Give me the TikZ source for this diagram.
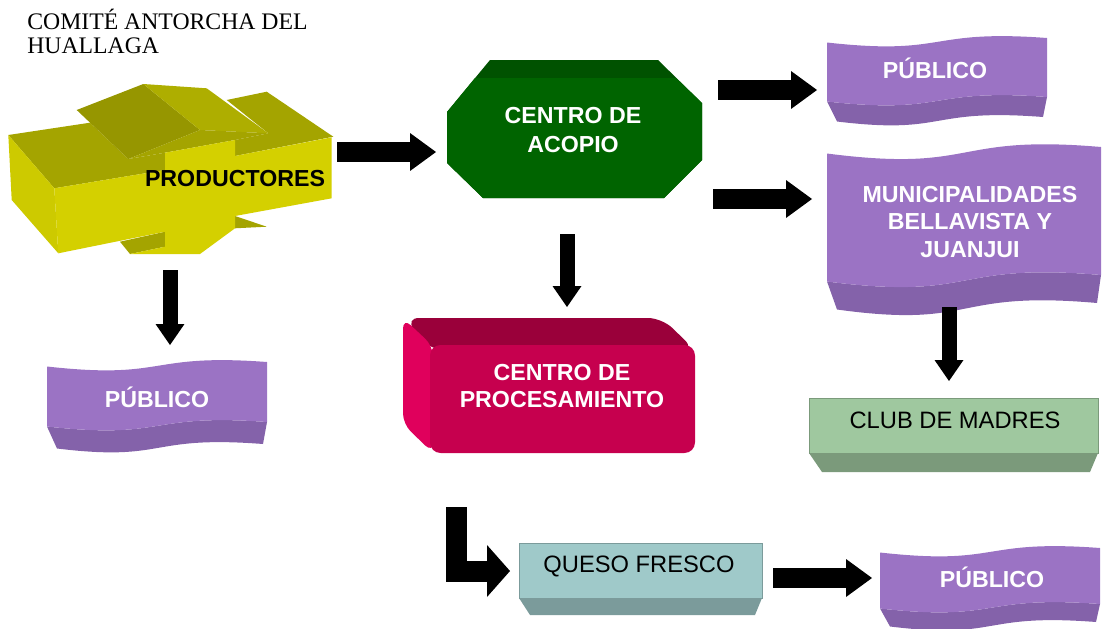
\documentclass[tikz,border=0pt]{standalone}
\usepackage{fontspec}
\setmainfont{Liberation Serif}
\setsansfont{Liberation Sans}
\usetikzlibrary{arrows.meta,positioning}

\definecolor{prodfront}{HTML}{D4D000}
\definecolor{prodside}{HTML}{CDCA00}
\definecolor{prodtop}{HTML}{A4A400}
\definecolor{proddark}{HTML}{969600}
\definecolor{prodlight}{HTML}{AEAE00}
\definecolor{acopiofront}{HTML}{006400}
\definecolor{acopiotop}{HTML}{005200}
\definecolor{procfront}{HTML}{C6004E}
\definecolor{proctop}{HTML}{9A003A}
\definecolor{procside}{HTML}{E0005C}
\definecolor{wavefront}{HTML}{9B73C4}
\definecolor{waveside}{HTML}{8462AA}
\definecolor{clubfront}{HTML}{9FC89F}
\definecolor{clubside}{HTML}{7B9A7B}
\definecolor{quesofront}{HTML}{9FC9C9}
\definecolor{quesoside}{HTML}{7B9B9B}

\tikzset{
  boxtext/.style   = {font=\sffamily\bfseries\fontsize{13.2}{15.5}\selectfont,
                      align=center, text=white, inner sep=0pt},
  lighttext/.style = {font=\sffamily\fontsize{13.5}{16}\selectfont,
                      align=center, inner sep=0pt},
  blockarrow/.style = {line width=0.4cm, line join=miter,
                       -{Triangle[length=0.52cm,width=0.76cm,line width=0pt]}},
  downarrow/.style  = {line width=0.3cm,
                       -{Triangle[length=0.42cm,width=0.58cm,line width=0pt]}},
  bendarrow/.style  = {line width=0.42cm, line join=miter,
                       -{Triangle[length=0.46cm,width=1.04cm,line width=0pt]}}
}

% wave banner: left, top, right, height, depth, amplitude
\newcommand\wavebanner[6]{%
  \fill[waveside] (#1,#2+#4+0.5*#6) .. controls ({#1+0.55*(#3-#1)},#2+#4+2*#6) and ({#1+0.45*(#3-#1)},#2+#4-#6) .. (#3,#2+#4)
    -- (#3-4,#2+#4+#5) .. controls ({#1+0.45*(#3-#1)},#2+#4+#5-#6) and ({#1+0.55*(#3-#1)},#2+#4+#5+2*#6) .. (#1+10,#2+#4+#5+0.5*#6) -- cycle;
  \fill[wavefront] (#1,#2+0.5*#6) .. controls ({#1+0.55*(#3-#1)},#2+2*#6) and ({#1+0.45*(#3-#1)},#2-#6) .. (#3,#2)
    -- (#3,#2+#4) .. controls ({#1+0.45*(#3-#1)},#2+#4-#6) and ({#1+0.55*(#3-#1)},#2+#4+2*#6) .. (#1,#2+#4+0.5*#6) -- cycle;
}

\begin{document}
\begin{tikzpicture}[x=0.02cm,y=-0.02cm]
\useasboundingbox (0,0) rectangle (1106,629);

% title
\node[anchor=north west, align=left, inner sep=0pt,
      font=\fontsize{13.5}{13.5}\selectfont] (title) at (27,9)
  {COMITÉ ANTORCHA DEL\\HUALLAGA};

% productores, the yellow cross
\fill[prodtop] (8.3,135) -- (90,122.7) -- (128.3,159) -- (165,152.7) -- (165,170) -- (54.3,188.3) -- cycle;
\fill[prodtop] (226.7,100) -- (266.7,91.7) -- (333.3,136.7) -- (235,156) -- (235,140) -- (268.3,133.3) -- cycle;
\fill[proddark] (76.7,110) -- (143.3,84) -- (200,130) -- (128.3,159) -- cycle;
\fill[prodlight] (143.3,84) -- (206.7,88.3) -- (268.3,133.3) -- (200,130) -- cycle;
\fill[prodtop] (128.3,159) -- (200,130) -- (268.3,133.3) -- (235,140) -- (165,152.7) -- cycle;
\fill[prodtop] (120,241.7) -- (165,231.7) -- (165,246.7) -- (130,254) -- cycle;
\fill[prodtop] (235,216) -- (266.7,226.7) -- (235,228.3) -- cycle;
\fill[prodside] (8.3,135) -- (54.3,188.3) -- (58.3,253.3) -- (11.7,200) -- cycle;
\fill[prodfront] (54.3,188.3) -- (165,170) -- (165,152.7) -- (235,140) -- (235,156) -- (331.7,137.3)
  -- (331.7,198.3) -- (235,216) -- (235,228.3) -- (200,254) -- (130,254) -- (165,246.7)
  -- (165,231.7) -- (58.3,253.3) -- cycle;
\node[boxtext, text=black] (prod) at (235,179) {PRODUCTORES};

% centro de acopio
\fill[acopiotop] (490,60) -- (658,60) -- (702,103) -- (702,160) -- (664,198) -- (483,198) -- (447,163) -- (447,112) -- cycle;
\fill[acopiofront] (475,78) -- (676,78) -- (702,103) -- (702,160) -- (664,198) -- (483,198) -- (447,163) -- (447,112) -- cycle;
\node[boxtext] (acopio) at (573,130) {CENTRO DE\\[1.5pt]ACOPIO};

% centro de procesamiento
\fill[proctop, rounded corners=8pt] (405,318) -- (662,318) -- (695,350) -- (430,350) -- cycle;
\fill[procside, rounded corners=6pt] (403,318) -- (433,346) -- (433,453) -- (403,424) -- cycle;
\fill[procfront, rounded corners=6pt] (430,345) rectangle (695,453);
\node[boxtext] (proces) at (562,386) {CENTRO DE\\PROCESAMIENTO};

% banners
\wavebanner{827}{38}{1047}{59}{20}{9}
\node[boxtext] (pub1) at (935,68) {PÚBLICO};

\wavebanner{827}{147}{1101}{128}{28}{13}
\node[boxtext] (muni) at (970,222) {MUNICIPALIDADES\\BELLAVISTA Y\\JUANJUI};

\wavebanner{47}{362}{267}{60}{22}{9}
\node[boxtext] (pub2) at (157,397) {PÚBLICO};

\wavebanner{880}{548}{1100}{56}{18}{9}
\node[boxtext] (pub3) at (992,577) {PÚBLICO};

% club de madres
\fill[clubside] (809,453) -- (1098,453) -- (1090,472) -- (822,472) -- cycle;
\filldraw[fill=clubfront, draw=clubside, thin] (809,398) rectangle (1098,453);
\node[lighttext] (club) at (955,420) {CLUB DE MADRES};

% queso fresco
\fill[quesoside] (519,598) -- (762,598) -- (755,615) -- (530,615) -- cycle;
\filldraw[fill=quesofront, draw=quesoside, thin] (519,543) rectangle (762,598);
\node[lighttext] (queso) at (639,566) {QUESO FRESCO};

% arrow ends
\coordinate (a1s) at (337,152);  \coordinate (a1e) at (436,152);
\coordinate (a2s) at (718,90);   \coordinate (a2e) at (817,90);
\coordinate (a3s) at (713,199);  \coordinate (a3e) at (812,199);
\coordinate (a4s) at (773,578);  \coordinate (a4e) at (872,578);
\coordinate (d1s) at (170,270);  \coordinate (d1e) at (170,345);
\coordinate (d2s) at (567,234);  \coordinate (d2e) at (567,307);
\coordinate (d3s) at (949,307);  \coordinate (d3e) at (949,381);
\coordinate (ls)  at (456,507);  \coordinate (le)  at (510,571);

\foreach \n in {1,...,4}
  \draw[blockarrow] (a\n s) -- (a\n e);
\foreach \n in {1,2,3}
  \draw[downarrow] (d\n s) -- (d\n e);
\draw[bendarrow] (ls) |- (le);
\end{tikzpicture}
\end{document}
